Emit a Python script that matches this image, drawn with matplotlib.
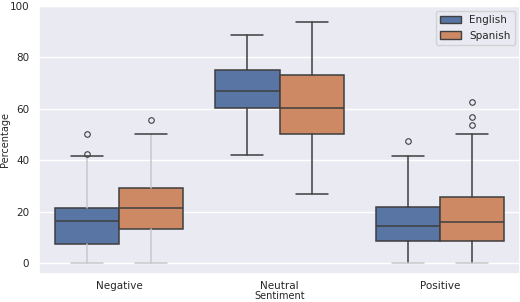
import matplotlib
matplotlib.use("Agg")
import matplotlib.pyplot as plt
import seaborn as sns
from matplotlib.patches import Patch

sns.set_theme(style="darkgrid")
plt.rcParams['font.family'] = ['DejaVu Sans']

categories = ["Negative", "Neutral", "Positive"]
languages = ["English", "Spanish"]
colors = ["#5975a4", "#cc8963"]

# box statistics: [Negative, Neutral, Positive]
en_low = [0, 41.9, 0]
en_q1 = [7.4, 60.3, 8.7]
en_med = [16.3, 67.0, 14.5]
en_q3 = [21.2, 75.1, 21.8]
en_high = [41.6, 88.7, 41.6]
en_fliers = [[42.4, 50.2], [], [47.6]]

es_low = [0, 27.0, 0]
es_q1 = [13.2, 50.0, 8.4]
es_med = [21.3, 60.2, 16.1]
es_q3 = [29.3, 73.0, 25.6]
es_high = [50.2, 93.7, 50.2]
es_fliers = [[55.8], [], [53.6, 56.7, 62.8]]

series = {
    "English": (en_low, en_q1, en_med, en_q3, en_high, en_fliers),
    "Spanish": (es_low, es_q1, es_med, es_q3, es_high, es_fliers),
}

fig = plt.figure(figsize=(5.2, 3.02), dpi=100)
ax = fig.add_axes([0.075, 0.093, 0.925, 0.887])

edge = "#3f3f3f"
light = "#c8c8cc"
width = 0.4
for j, lang in enumerate(languages):
    low, q1, med, q3, high, fl = series[lang]
    stats = []
    for i in range(len(categories)):
        stats.append(dict(whislo=low[i], q1=q1[i], med=med[i], q3=q3[i],
                          whishi=high[i], fliers=fl[i]))
    pos = [i - 0.2 + 0.4 * j for i in range(len(categories))]
    art = ax.bxp(stats, positions=pos, widths=width, patch_artist=True,
                 showfliers=True, manage_ticks=False,
                 boxprops=dict(facecolor=colors[j], edgecolor=edge, linewidth=1.1),
                 medianprops=dict(color=edge, linewidth=1.1),
                 whiskerprops=dict(color=edge, linewidth=1.1),
                 capprops=dict(color=edge, linewidth=1.1),
                 capwidths=width * 0.5,
                 flierprops=dict(marker="o", markersize=4, markerfacecolor="none",
                                 markeredgecolor=edge, markeredgewidth=0.8))
    # the low whiskers/caps at 0 appear pale in the source
    for i in range(len(categories)):
        if low[i] == 0:
            art["caps"][2 * i].set_color(light)
        if i == 0:
            art["whiskers"][2 * i].set_color(light)
            art["whiskers"][2 * i + 1].set_color(light)

ax.set_xlim(-0.5, 2.5)
ax.set_ylim(-4.3, 100)
ax.set_xticks(range(len(categories)))
ax.set_xticklabels(categories)
ax.set_yticks([0, 20, 40, 60, 80, 100])
ax.tick_params(axis="y", labelsize=7.5, pad=1)
ax.tick_params(axis="x", labelsize=7.5, pad=-1)
ax.set_xlabel("Sentiment", fontsize=7, labelpad=0)
ax.set_ylabel("Percentage", fontsize=7, labelpad=0)
ax.grid(axis="x", visible=False)

handles = [Patch(facecolor=colors[k], edgecolor=edge, label=languages[k]) for k in range(2)]
ax.legend(handles=handles, loc="upper right", fontsize=7.5, frameon=True)

fig.savefig("out.png", dpi=100)
